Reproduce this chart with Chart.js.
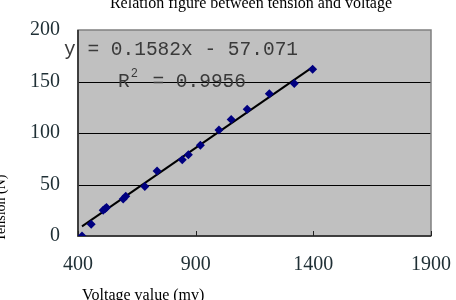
<!DOCTYPE html>
<html><head><meta charset="utf-8">
<script src="https://cdn.jsdelivr.net/npm/chart.js@4/dist/chart.umd.min.js"></script>
<style>html,body{margin:0;padding:0;background:#fff;}canvas{display:block;}</style>
</head><body>
<div style="width:456px;height:300px;"><canvas id="c" width="456" height="300"></canvas></div>
<script>
const voltage = [417, 456, 507, 515, 521, 592, 603, 684, 736, 843, 869, 920, 999, 1051, 1119, 1213, 1319, 1397];
const tension = [0, 11.5, 25, 26.5, 27.6, 36, 38.5, 48, 63, 74, 79, 88, 103, 113, 123, 138, 148, 162];
const trendX = [417, 1397];
const trendY = [9.3, 163.9];
const xTicks = [400, 900, 1400, 1900];
const yTicks = [0, 50, 100, 150, 200];
const titleText = 'Relation figure between tension and voltage';
const xTitle = 'Voltage value (mv)';
const yTitle = 'Tension (N)';
const eqText = 'y = 0.1582x - 57.071';
const r2Text = 'R';
const r2Value = ' = 0.9956';

const deco = {
  id: 'deco',
  beforeDatasetsDraw(chart) {
    const {ctx, chartArea: a} = chart;
    ctx.save();
    ctx.fillStyle = '#c0c0c0';
    ctx.fillRect(a.left, a.top, a.right - a.left, a.bottom - a.top);
    const ys = chart.scales.y;
    ctx.strokeStyle = '#000';
    ctx.lineWidth = 1;
    [50, 100, 150].forEach(v => {
      const py = Math.round(ys.getPixelForValue(v)) + 0.5;
      ctx.beginPath(); ctx.moveTo(a.left, py); ctx.lineTo(a.right, py); ctx.stroke();
    });
    ctx.strokeStyle = '#808080';
    ctx.lineWidth = 1.5;
    ctx.strokeRect(a.left, a.top, a.right - a.left, a.bottom - a.top);
    ctx.strokeStyle = '#222';
    ctx.beginPath(); ctx.moveTo(a.left, a.top); ctx.lineTo(a.left, a.bottom); ctx.lineTo(a.right, a.bottom); ctx.stroke();
    const xs = chart.scales.x;
    ctx.lineWidth = 1;
    xTicks.forEach(v => {
      const px = Math.round(xs.getPixelForValue(v)) + 0.5;
      ctx.beginPath(); ctx.moveTo(px, a.bottom); ctx.lineTo(px, a.bottom - 5); ctx.stroke();
    });
    ctx.restore();
  },
  afterDraw(chart) {
    const {ctx} = chart;
    ctx.save();
    ctx.fillStyle = '#000';
    ctx.font = '16px "Liberation Serif", serif';
    ctx.textAlign = 'center';
    ctx.textBaseline = 'alphabetic';
    ctx.fillText(titleText, 251, 8);
    ctx.textAlign = 'left';
    ctx.fillText(xTitle, 82, 300);
    ctx.save();
    ctx.font = '14px "Liberation Serif", serif';
    ctx.translate(5, 208);
    ctx.rotate(-Math.PI / 2);
    ctx.textAlign = 'center';
    ctx.fillText(yTitle, 0, 0);
    ctx.restore();
    ctx.fillStyle = '#3a3a3a';
    ctx.font = '19.5px "Liberation Mono", monospace';
    ctx.textAlign = 'left';
    ctx.fillText(eqText, 64, 55);
    ctx.fillText(r2Text, 118, 87);
    const rw = ctx.measureText(r2Text).width;
    ctx.font = '12px "Liberation Mono", monospace';
    ctx.fillText('2', 119 + rw, 77);
    ctx.font = '19.5px "Liberation Mono", monospace';
    ctx.fillText(r2Value, 118 + rw + 11, 87);
    ctx.restore();
  }
};

new Chart(document.getElementById('c'), {
  type: 'scatter',
  data: {
    datasets: [
      {
        type: 'line',
        data: trendX.map((x, i) => ({x, y: trendY[i]})),
        borderColor: '#000',
        borderWidth: 2,
        pointRadius: 0,
        fill: false,
        order: 2
      },
      {
        data: voltage.map((x, i) => ({x, y: tension[i]})),
        pointStyle: 'rectRot',
        pointRadius: 4.5,
        backgroundColor: '#000080',
        borderColor: '#000080',
        borderWidth: 0,
        order: 1
      }
    ]
  },
  options: {
    responsive: false,
    animation: false,
    layout: {padding: {left: 0, right: 25, top: 27, bottom: 0}},
    plugins: {legend: {display: false}, tooltip: {enabled: false}, title: {display: false}},
    scales: {
      x: {
        type: 'linear', min: 400, max: 1900,
        afterBuildTicks: s => { s.ticks = xTicks.map(v => ({value: v})); },
        afterFit: s => { s.height = 64; s.paddingLeft = 0; s.paddingRight = 0; },
        grid: {display: false, drawTicks: false},
        border: {display: false},
        ticks: {padding: 17, color: '#1f2f35', font: {family: '"Liberation Serif", serif', size: 20}, maxRotation: 0, autoSkip: false,
          callback: v => String(v)}
      },
      y: {
        min: 0, max: 200,
        afterBuildTicks: s => { s.ticks = yTicks.map(v => ({value: v})); },
        afterFit: s => { s.width = 78; },
        grid: {display: false, drawTicks: false},
        border: {display: false},
        ticks: {padding: 18, color: '#1f2f35', font: {family: '"Liberation Serif", serif', size: 20}}
      }
    }
  },
  plugins: [deco]
});
</script>
</body></html>
